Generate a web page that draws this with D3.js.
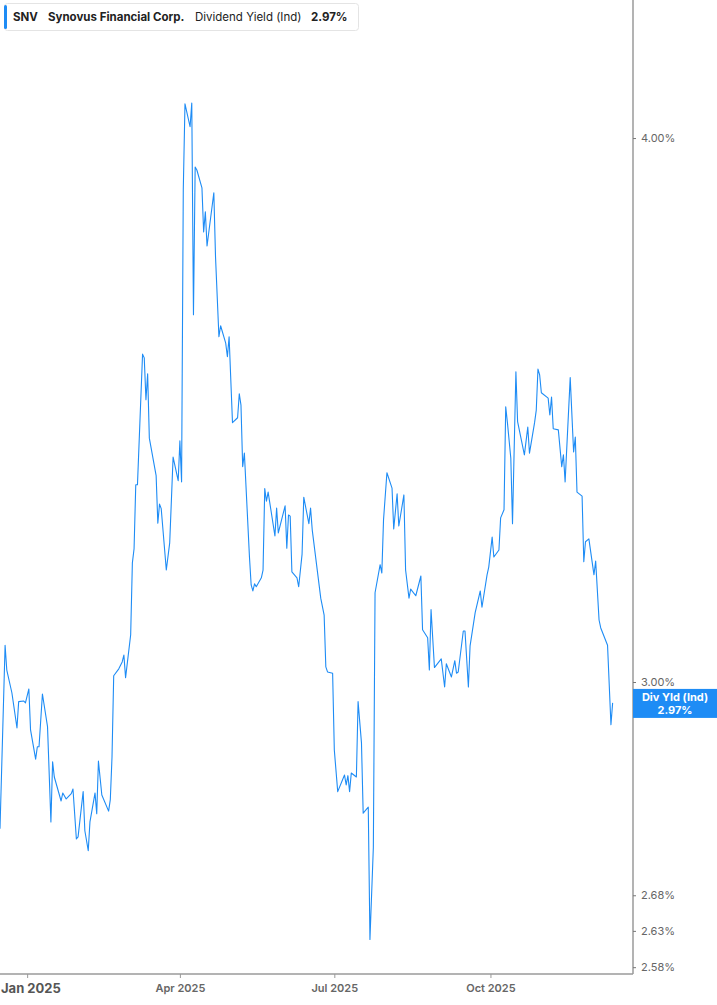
<!DOCTYPE html>
<html><head><meta charset="utf-8">
<script src="https://cdn.jsdelivr.net/npm/d3@7/dist/d3.min.js"></script>
<style>
html,body{margin:0;padding:0;background:#fff;}
svg{display:block;font-family:Inter,"Noto Sans",sans-serif;}
</style></head>
<body><svg id="chart" width="717" height="1005"></svg>
<script>
const dates = ["2024-12-16","2024-12-19","2024-12-20","2024-12-23","2024-12-26","2024-12-27","2024-12-30","2024-12-31",
"2025-01-02","2025-01-03","2025-01-06","2025-01-07","2025-01-08","2025-01-10","2025-01-13","2025-01-15","2025-01-16","2025-01-17",
"2025-01-21","2025-01-22","2025-01-24","2025-01-27","2025-01-28","2025-01-30","2025-01-31","2025-02-03","2025-02-04","2025-02-06",
"2025-02-07","2025-02-10","2025-02-11","2025-02-12","2025-02-14","2025-02-18","2025-02-19","2025-02-20","2025-02-21","2025-02-24",
"2025-02-26","2025-02-27","2025-02-28","2025-03-03","2025-03-04","2025-03-05","2025-03-06","2025-03-07","2025-03-10","2025-03-11",
"2025-03-12","2025-03-13","2025-03-14","2025-03-18","2025-03-19","2025-03-20","2025-03-21","2025-03-24","2025-03-26","2025-03-28",
"2025-03-31","2025-04-01","2025-04-02","2025-04-03","2025-04-04","2025-04-07","2025-04-08","2025-04-09","2025-04-10","2025-04-11",
"2025-04-14","2025-04-15","2025-04-16","2025-04-17","2025-04-21","2025-04-22","2025-04-24","2025-04-25","2025-04-28","2025-04-29",
"2025-04-30","2025-05-02","2025-05-05","2025-05-06","2025-05-07","2025-05-08","2025-05-09","2025-05-12","2025-05-13","2025-05-14",
"2025-05-15","2025-05-16","2025-05-19","2025-05-20","2025-05-21","2025-05-22","2025-05-23","2025-05-27","2025-05-28","2025-05-29",
"2025-06-02","2025-06-03","2025-06-04","2025-06-05","2025-06-06","2025-06-09","2025-06-10","2025-06-12","2025-06-13","2025-06-16",
"2025-06-17","2025-06-18","2025-06-23","2025-06-25","2025-06-26","2025-06-27","2025-06-30","2025-07-01","2025-07-03","2025-07-07",
"2025-07-08","2025-07-09","2025-07-10","2025-07-11","2025-07-14","2025-07-15","2025-07-17","2025-07-18","2025-07-21","2025-07-22",
"2025-07-24","2025-07-25","2025-07-28","2025-07-29","2025-07-30","2025-08-01","2025-08-04","2025-08-05","2025-08-07","2025-08-08",
"2025-08-11","2025-08-12","2025-08-14","2025-08-15","2025-08-18","2025-08-21","2025-08-22","2025-08-25","2025-08-26","2025-08-27",
"2025-08-29","2025-09-02","2025-09-04","2025-09-05","2025-09-08","2025-09-10","2025-09-11","2025-09-12","2025-09-15","2025-09-16",
"2025-09-18","2025-09-19","2025-09-22","2025-09-25","2025-09-26","2025-09-29","2025-09-30","2025-10-02","2025-10-03","2025-10-06",
"2025-10-07","2025-10-09","2025-10-10","2025-10-11","2025-10-13","2025-10-14","2025-10-16","2025-10-17","2025-10-21","2025-10-23",
"2025-10-24","2025-10-27","2025-10-28","2025-10-29","2025-10-30","2025-10-31","2025-11-04","2025-11-05","2025-11-06","2025-11-07",
"2025-11-10","2025-11-12","2025-11-13","2025-11-14","2025-11-17","2025-11-19","2025-11-20","2025-11-21","2025-11-24","2025-11-25",
"2025-11-26","2025-11-28","2025-12-01","2025-12-02","2025-12-04","2025-12-05","2025-12-09","2025-12-11","2025-12-12"];

const yieldPct = [2.776,3.059,3.019,2.983,2.928,2.969,2.970,2.967,
2.989,2.925,2.880,2.899,2.899,2.981,2.930,2.786,2.876,2.853,
2.817,2.829,2.820,2.828,2.835,2.761,2.764,2.831,2.773,2.744,
2.786,2.829,2.798,2.877,2.826,2.802,2.819,2.883,3.010,3.021,
3.032,3.043,3.007,3.076,3.195,3.219,3.330,3.330,3.568,3.561,
3.483,3.531,3.413,3.346,3.263,3.296,3.288,3.183,3.229,3.379,
3.337,3.408,3.335,3.892,4.073,4.024,4.075,3.643,3.939,3.933,
3.896,3.806,3.847,3.778,3.886,3.756,3.601,3.622,3.589,3.563,
3.601,3.441,3.450,3.494,3.473,3.362,3.386,3.205,3.158,3.148,
3.160,3.155,3.170,3.183,3.323,3.301,3.317,3.241,3.289,3.246,
3.293,3.220,3.277,3.275,3.180,3.170,3.155,3.210,3.308,3.262,
3.289,3.251,3.136,3.108,3.024,3.016,3.014,2.894,2.831,2.856,
2.841,2.855,2.831,2.859,2.853,2.969,2.905,2.799,2.808,2.618,
2.749,3.145,3.192,3.178,3.269,3.351,3.324,3.253,3.314,3.258,
3.312,3.183,3.136,3.151,3.140,3.173,3.084,3.071,3.019,3.117,
3.023,3.037,2.992,3.029,3.008,3.034,3.014,3.016,3.082,3.082,
2.992,3.058,3.112,3.148,3.121,3.175,3.188,3.239,3.205,3.217,
3.272,3.286,3.470,3.441,3.377,3.262,3.535,3.443,3.383,3.433,
3.386,3.441,3.464,3.540,3.529,3.496,3.486,3.455,3.488,3.430,
3.428,3.362,3.383,3.335,3.524,3.388,3.415,3.317,3.310,3.197,
3.231,3.236,3.175,3.198,3.100,3.087,3.059,2.933,2.967];

const yTicks = [4.00, 3.00, 2.68, 2.63, 2.58];
const xTickDates = ["2025-01-01","2025-04-01","2025-07-01","2025-10-01"];
const xTickLabels = ["Jan 2025","Apr 2025","Jul 2025","Oct 2025"];
const ticker = "SNV", company = "Synovus Financial Corp.", metric = "Dividend Yield (Ind)", lastValue = "2.97%";
const badgeLines = ["Div Yld (Ind)", "2.97%"];

const parse = d3.timeParse("%Y-%m-%d");
const data = dates.map((d,i)=>({date:parse(d), v:yieldPct[i]}));

const svg = d3.select("#chart");
const W = 633, H = 974;
const blue = "#1e8cf5";

const x = d3.scaleTime().domain([parse("2024-12-16"), parse("2025-12-24")]).range([0, W]);
const y = d3.scaleLog().domain([2.5707, 4.303]).range([H, 0]);

// line
svg.append("path").datum(data)
  .attr("fill","none").attr("stroke", blue).attr("stroke-width",1.1)
  .attr("stroke-linejoin","round")
  .attr("d", d3.line().x(d=>x(d.date)).y(d=>y(d.v)));

// right axis
const yAxis = d3.axisRight(y).tickValues(yTicks).tickSize(3).tickPadding(5)
  .tickFormat(d=>d.toFixed(2)+"%");
const gy = svg.append("g").attr("transform",`translate(${W},0)`).call(yAxis);
gy.select(".domain").attr("d",`M0,0V${H}`).attr("stroke","#9a9a9a").attr("stroke-width",1.5);
gy.selectAll(".tick line").attr("stroke","#777");
gy.selectAll(".tick text").attr("fill","#666").attr("font-size",11).attr("font-family","Inter,sans-serif");

// bottom axis
const xAxis = d3.axisBottom(x).tickValues(xTickDates.map(parse)).tickSize(4).tickPadding(6)
  .tickFormat((d,i)=>xTickLabels[i]);
const gx = svg.append("g").attr("transform",`translate(0,${H})`).call(xAxis);
gx.select(".domain").attr("d",`M0,0H${W}`).attr("stroke","#9a9a9a").attr("stroke-width",1.5);
gx.selectAll(".tick line").attr("stroke","#999");
gx.selectAll(".tick text").attr("fill","#666").attr("font-size",11).attr("font-weight",600)
  .attr("font-family","Inter,sans-serif");
const firstTickX = x(parse(xTickDates[0]));
gx.selectAll(".tick text").filter((d,i)=>i===0)
  .attr("fill","#555").attr("font-size",13).attr("font-weight",700)
  .attr("text-anchor","start").attr("x", 0.5 - firstTickX);

// badge
const last = data[data.length-1];
const by = y(last.v);
svg.append("rect").attr("x",W).attr("y",by-14).attr("width",717-W).attr("height",29).attr("fill",blue);
svg.append("text").attr("x",W+42).attr("y",by-2).attr("text-anchor","middle").attr("fill","#fff")
  .attr("font-size",11).attr("font-weight",700).text(badgeLines[0]);
svg.append("text").attr("x",W+42).attr("y",by+11).attr("text-anchor","middle").attr("fill","#fff")
  .attr("font-size",11).attr("font-weight",700).text(badgeLines[1]);

// header box
const hg = svg.append("g");
hg.append("rect").attr("x",4.5).attr("y",3.5).attr("width",354).attr("height",27).attr("rx",3)
  .attr("fill","#fff").attr("stroke","#e4e4e4");
hg.append("rect").attr("x",4).attr("y",5).attr("width",3).attr("height",24).attr("rx",1.5).attr("fill",blue);
hg.append("text").attr("x",13).attr("y",21).attr("font-size",11.5).attr("font-weight",700).attr("fill","#222").text(ticker);
hg.append("text").attr("x",48).attr("y",21).attr("font-size",11.5).attr("font-weight",700).attr("fill","#222").text(company);
hg.append("text").attr("x",195).attr("y",21).attr("font-size",11.5).attr("font-weight",400).attr("fill","#222").text(metric);
hg.append("text").attr("x",311).attr("y",21).attr("font-size",11.5).attr("font-weight",700).attr("fill","#222").text(lastValue);
</script></body></html>
